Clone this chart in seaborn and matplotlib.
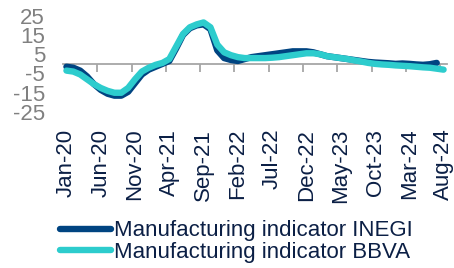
import matplotlib
matplotlib.use("Agg")
import matplotlib.pyplot as plt
import seaborn as sns
import pandas as pd
import numpy as np

# monthly values, Jan-20 onwards
months = pd.date_range("2020-01-01", "2024-08-01", freq="MS")

inegi = [-1.5, -2.0, -3.5, -6.5, -10.5, -13.5, -15.5, -16.5, -16.5, -14.5,
         -10.0, -5.5, -3.0, -1.5, 0.0, 1.5, 8.0, 15.0, 18.5, 20.0,
         20.5, 18.0, 7.0, 3.0, 2.0, 1.5, 2.5, 3.5, 4.0, 4.5,
         5.0, 5.5, 6.0, 6.5, 6.5, 6.5, 6.0, 5.0, 4.0, 3.5,
         3.0, 2.5, 2.0, 1.5, 1.0, 0.7, 0.5, 0.3, 0.0, 0.2,
         0.0, -0.3, -0.5, -0.2, 0.5]

bbva = [-3.5, -4.0, -5.5, -8.0, -10.5, -12.5, -14.0, -15.0, -15.0, -12.5,
        -8.0, -4.0, -2.0, -0.5, 0.5, 2.5, 9.0, 15.5, 19.0, 20.5,
        21.5, 19.0, 10.0, 6.0, 4.5, 3.5, 3.0, 3.0, 3.0, 3.0,
        3.2, 3.5, 4.0, 4.5, 5.0, 5.5, 5.5, 5.0, 4.0, 3.5,
        3.0, 2.5, 1.8, 1.2, 0.5, 0.0, -0.3, -0.5, -0.8, -1.0,
        -1.2, -1.5, -1.8, -2.0, -2.5, -3.0]

series_names = ["Manufacturing indicator INEGI", "Manufacturing indicator BBVA"]
colors = ["#004481", "#2DCCCD"]
yticks = [-25, -15, -5, 5, 15, 25]

navy = "#0B1F45"
grey = "#808080"

df = pd.concat([
    pd.DataFrame({"idx": np.arange(len(inegi)), "value": inegi, "series": series_names[0]}),
    pd.DataFrame({"idx": np.arange(len(bbva)), "value": bbva, "series": series_names[1]}),
])

sns.set_style("white")
plt.rcParams["font.family"] = ["Liberation Sans", "DejaVu Sans"]

fig = plt.figure(figsize=(4.54, 2.68), dpi=100)
ax = fig.add_axes([0.1388, 0.582, 0.8458, 0.3594])

sns.lineplot(data=df, x="idx", y="value", hue="series", palette=colors,
             linewidth=4.6, ax=ax, zorder=3, solid_capstyle="round",
             solid_joinstyle="round")

ax.set_xlim(-0.5, len(months) - 0.5)
ax.set_ylim(-25, 25)
ax.set_xlabel("")
ax.set_ylabel("")

for s in ["top", "right", "left"]:
    ax.spines[s].set_visible(False)
# zero line acts as the category axis
ax.spines["bottom"].set_position(("data", 0))
ax.spines["bottom"].set_color("#A6A6A6")
ax.spines["bottom"].set_linewidth(1.3)
ax.set_xticks(np.arange(5, len(months), 5) - 0.5)
ax.set_xticklabels([])
ax.tick_params(axis="x", direction="out", length=6, width=1.3, color="#A6A6A6", bottom=True)

ax.set_yticks(yticks)
ax.set_yticklabels([str(v) for v in yticks])
ax.tick_params(axis="y", length=0, pad=13, labelsize=16, labelcolor=grey)

# date labels along the bottom of the plot area
lab = ax.secondary_xaxis("bottom")
pos = np.arange(0, len(months), 5)
lab.set_xticks(pos)
lab.set_xticklabels([months[i].strftime("%b-%y") for i in pos])
lab.spines["bottom"].set_visible(False)
lab.tick_params(length=0, pad=12, labelsize=16, labelcolor=navy, rotation=90)

h, l = ax.get_legend_handles_labels()
ax.get_legend().remove()
fig.legend(h, l, loc="upper left", bbox_to_anchor=(0.132, 0.178), frameon=False,
           fontsize=16, labelcolor=navy, handlelength=2.3, handletextpad=0.15,
           labelspacing=0.02, borderpad=0, borderaxespad=0)

fig.savefig("out.png", dpi=100)
